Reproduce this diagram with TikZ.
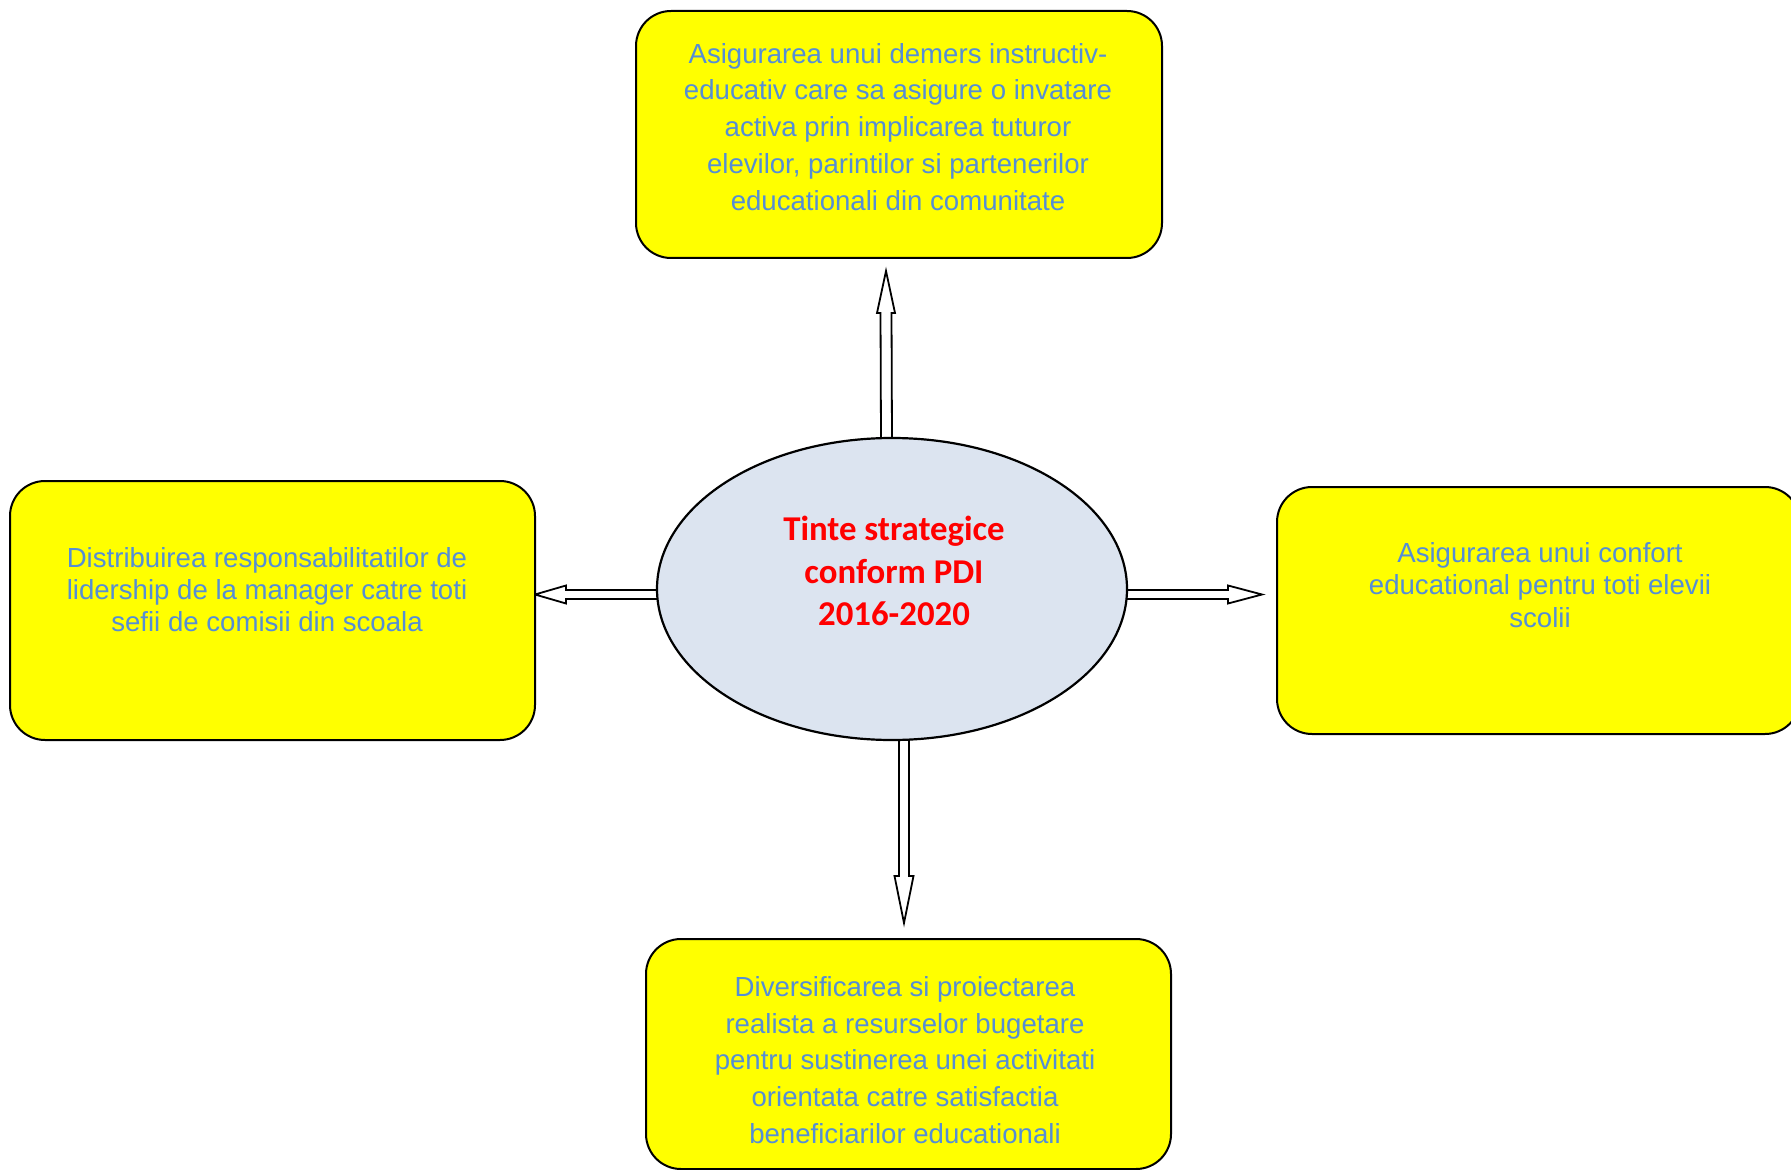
\documentclass[tikz,border=0pt]{standalone}
\usepackage{fontspec}
\setmainfont{Liberation Sans}
\newfontfamily\calib{Carlito}
\usetikzlibrary{calc,shapes.geometric}
\definecolor{boxyellow}{HTML}{FFFF00}
\definecolor{txtblue}{HTML}{558ED5}
\definecolor{ellfill}{HTML}{DCE4F0}
\pgfdeclarelayer{background}
\pgfsetlayers{background,main}
\begin{document}
\begin{tikzpicture}[x=0.5pt,y=-0.5pt,
  goal/.style={draw=black, line width=1pt, fill=boxyellow, rounded corners=17.5pt, inner sep=0pt},
  goaltxt/.style={text=txtblue, align=center, inner sep=0pt},
  hollow/.style={draw=black, line width=0.9pt, fill=white, line join=miter}]
\useasboundingbox (0,0) rectangle (1791,1170);
% boxes
\node[goal, minimum width=263pt, minimum height=123.5pt] (top) at (899,134.5) {};
\node[goal, minimum width=262.5pt, minimum height=129.5pt] (left) at (272.5,610.5) {};
\node[goal, minimum width=261.5pt, minimum height=123.5pt] (right) at (1538.5,610.5) {};
\node[goal, minimum width=262.5pt, minimum height=115pt] (bottom) at (908.5,1054) {};
% texts
\node[goaltxt, font=\fontsize{13.8pt}{18.45pt}\selectfont] (toptxt) at (898,127) {Asigurarea unui demers instructiv-\\educativ care sa asigure o invatare\\activa prin implicarea tuturor\\elevilor, parintilor si partenerilor\\educationali din comunitate};
\node[goaltxt, font=\fontsize{13.8pt}{16pt}\selectfont] (lefttxt) at (267,590) {Distribuirea responsabilitatilor de\\lidership de la manager catre toti\\sefii de comisii din scoala};
\node[goaltxt, font=\fontsize{13.8pt}{16.3pt}\selectfont] (righttxt) at (1540,585) {Asigurarea unui confort\\educational pentru toti elevii\\scolii};
\node[goaltxt, font=\fontsize{13.8pt}{18.4pt}\selectfont] (bottomtxt) at (905,1060) {Diversificarea si proiectarea\\realista a resurselor bugetare\\pentru sustinerea unei activitati\\orientata catre satisfactia\\beneficiarilor educationali};
% centre
\node[ellipse, draw=black, line width=1.1pt, fill=ellfill, minimum width=235pt, minimum height=151pt, inner sep=0pt] (c) at (892,589) {};
\node[text=red, align=center, inner sep=0pt, font=\calib\bfseries\fontsize{17.4pt}{21.2pt}\selectfont] (title) at (894,571) {Tinte strategice\\conform PDI\\2016-2020};
% arrow tips
\coordinate (uT) at (886,271);
\coordinate (dT) at (904,923);
\coordinate (lT) at (535,594.5);
\coordinate (rT) at (1262,594.5);
\begin{pgfonlayer}{background}
\draw[hollow] ($(c.north)+(-11,6)$) -- ($(uT)+(-5.5,42)$) -- ($(uT)+(-9,42)$) -- (uT) -- ($(uT)+(9,42)$) -- ($(uT)+(5.5,42)$) -- ($(c.north)+(0,6)$) -- cycle;
\draw[hollow] ($(c.south)+(7,-6)$) -- ($(dT)+(-5,-47)$) -- ($(dT)+(-9.5,-47)$) -- (dT) -- ($(dT)+(9.5,-47)$) -- ($(dT)+(5,-47)$) -- ($(c.south)+(17,-6)$) -- cycle;
\draw[hollow] ($(c.west)+(6,1)$) -- ($(lT)+(31,-4.5)$) -- ($(lT)+(31,-9)$) -- (lT) -- ($(lT)+(31,9)$) -- ($(lT)+(31,4.5)$) -- ($(c.west)+(6,10)$) -- cycle;
\draw[hollow] ($(c.east)+(-6,1)$) -- ($(rT)+(-34,-4.5)$) -- ($(rT)+(-34,-9)$) -- (rT) -- ($(rT)+(-34,9)$) -- ($(rT)+(-34,4.5)$) -- ($(c.east)+(-6,10)$) -- cycle;
\end{pgfonlayer}
\end{tikzpicture}
\end{document}
